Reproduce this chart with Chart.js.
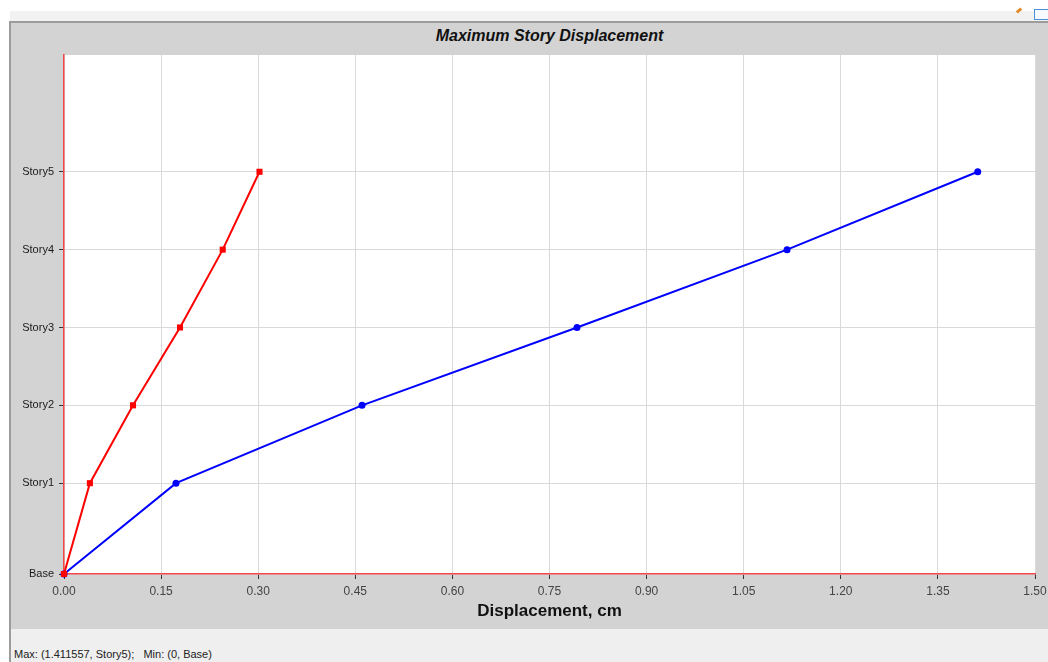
<!DOCTYPE html>
<html>
<head>
<meta charset="utf-8">
<script src="https://cdn.jsdelivr.net/npm/chart.js@4/dist/chart.umd.min.js"></script>
<style>
    body { margin: 0; width: 1048px; height: 662px; background: #fff; position: relative; overflow: hidden; font-family: "Liberation Sans", Arial, sans-serif; }
    .strip { position: absolute; left: 10px; top: 11px; width: 1038px; height: 10px; background: #f2f2f2; }
    .topline { position: absolute; left: 10px; top: 21px; width: 1038px; height: 2px; background: #9c9c9c; }
    .leftline { position: absolute; left: 9px; top: 21px; width: 2px; height: 641px; background: #9c9c9c; }
    .panel { position: absolute; left: 11px; top: 23px; width: 1037px; height: 606px; background: #d3d3d3; }
    .status { position: absolute; left: 11px; top: 629px; width: 1037px; height: 33px; background: #efefef; }
    .status span { position: absolute; left: 3px; top: 19px; font-size: 11px; color: #222; white-space: pre; }
    .title { position: absolute; left: 64px; width: 971px; top: 27px; text-align: center; font-size: 16px; font-weight: bold; font-style: italic; color: #111; }
    .pencil { position: absolute; left: 1016px; top: 9px; width: 6px; height: 3px; background: #e08a2a; transform: rotate(-40deg); }
    .icon { position: absolute; left: 1034px; top: 9px; width: 14px; height: 11px; border: 1px solid #4a90d9; border-right: none; background: #f7fbff; box-sizing: border-box; }
    canvas { position: absolute; left: 0; top: 0; }
</style>
</head>
<body>
<div class="strip"></div>
<div class="pencil"></div>
<div class="icon"></div>
<div class="topline"></div>
<div class="panel"></div>
<div class="status"><span>Max: (1.411557, Story5);   Min: (0, Base)</span></div>
<div class="leftline"></div>
<div class="title">Maximum Story Displacement</div>
<canvas id="chart" width="1048" height="662"></canvas>
<script>
// stories and their elevations on the vertical axis
const storyLabels = ['Base', 'Story1', 'Story2', 'Story3', 'Story4', 'Story5'];
const storyElevations = [0, 3.5, 6.5, 9.5, 12.5, 15.5];
const yMax = 20;

// displacement per story (cm)
const dispBlue = [0, 0.173, 0.4604, 0.7925, 1.117, 1.411557];
const dispRed = [0, 0.040, 0.1066, 0.1792, 0.2452, 0.302];

// x axis tick labels
const xTicks = [0, 0.15, 0.30, 0.45, 0.60, 0.75, 0.90, 1.05, 1.20, 1.35, 1.50];

const font = '"Liberation Sans", Arial, sans-serif';

const toPoints = (disp) => disp.map((d, i) => ({ x: d, y: storyElevations[i] }));

// white plot area behind the grid
const plotBackground = {
    id: 'plotBackground',
    beforeDraw(chart) {
        const { ctx, chartArea: a } = chart;
        ctx.save();
        ctx.fillStyle = '#ffffff';
        ctx.fillRect(a.left, a.top, a.right - a.left, a.bottom - a.top);
        ctx.restore();
    }
};

new Chart(document.getElementById('chart'), {
    type: 'line',
    data: {
        datasets: [{
            label: 'red',
            data: toPoints(dispRed),
            borderColor: '#ff0000',
            backgroundColor: '#ff0000',
            borderWidth: 2,
            pointStyle: 'rect',
            pointRadius: 4.3,
            pointBorderWidth: 0,
            clip: false
        }, {
            label: 'blue',
            data: toPoints(dispBlue),
            borderColor: '#0000ff',
            backgroundColor: '#0000ff',
            borderWidth: 2,
            pointStyle: 'circle',
            pointRadius: 3.5,
            pointBorderWidth: 0,
            clip: false
        }]
    },
    options: {
        responsive: false,
        animation: false,
        layout: {
            padding: { top: 55, right: 13, bottom: 33, left: 0 }
        },
        plugins: {
            legend: { display: false },
            tooltip: { enabled: false }
        },
        scales: {
            x: {
                type: 'linear',
                min: 0,
                max: 1.5,
                afterBuildTicks(scale) {
                    scale.ticks = xTicks.map(v => ({ value: v }));
                },
                afterFit(scale) {
                    scale.height = 55;
                    // the last label may hang into the right margin
                    scale.paddingLeft = 0;
                    scale.paddingRight = 0;
                },
                ticks: {
                    callback: (v) => Number(v).toFixed(2),
                    color: '#444',
                    font: { family: font, size: 12 },
                    padding: 5,
                    maxRotation: 0
                },
                grid: {
                    color: '#d9d9d9',
                    tickColor: '#333',
                    tickLength: 5
                },
                border: { color: '#f24848', width: 1.5 },
                title: {
                    display: true,
                    text: 'Displacement, cm',
                    color: '#111',
                    font: { family: font, size: 17, weight: 'bold' },
                    padding: { top: 0, bottom: 7 }
                }
            },
            y: {
                type: 'linear',
                min: 0,
                max: yMax,
                afterBuildTicks(scale) {
                    scale.ticks = storyElevations.map(v => ({ value: v }));
                },
                afterFit(scale) {
                    scale.width = 64;
                    scale.paddingTop = 0;
                    scale.paddingBottom = 0;
                },
                ticks: {
                    callback: (v) => storyLabels[storyElevations.indexOf(v)] || '',
                    color: '#1a1a1a',
                    font: { family: font, size: 11 },
                    padding: 5
                },
                grid: {
                    color: '#d9d9d9',
                    tickColor: '#333',
                    tickLength: 5
                },
                border: { color: '#f24848', width: 1.5 }
            }
        }
    },
    plugins: [plotBackground]
});
</script>
</body>
</html>
